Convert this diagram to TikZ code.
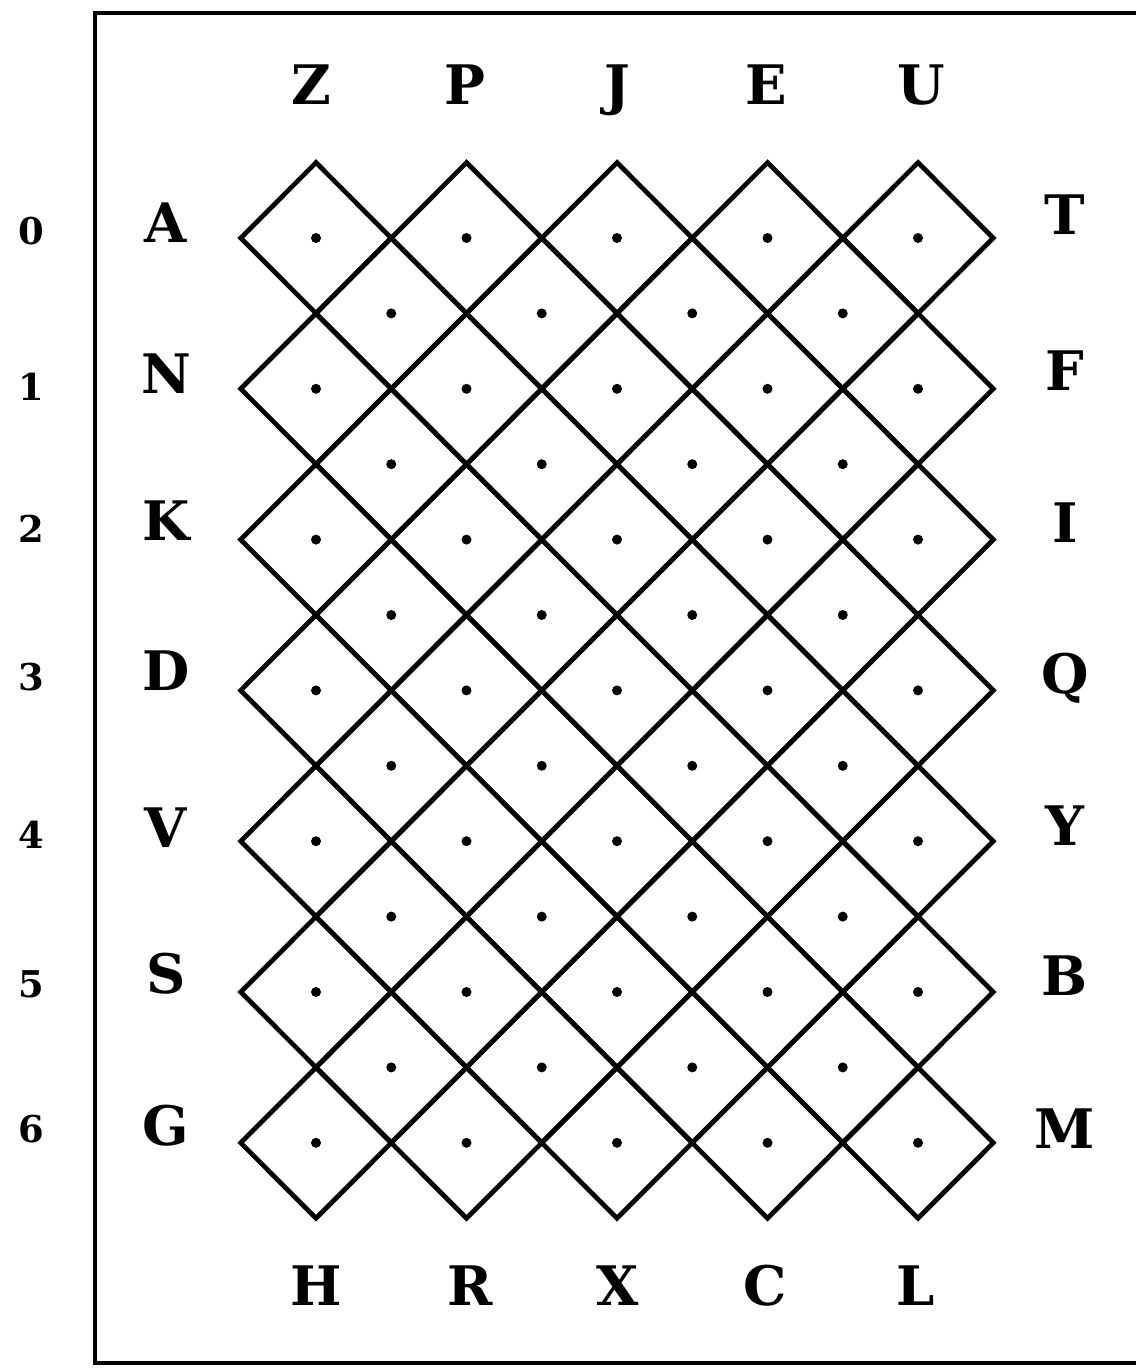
\documentclass[tikz,border=0pt]{standalone}
\usepackage{fontspec}
\setmainfont{DejaVu Serif}
\begin{document}
\begin{tikzpicture}[x=0.02cm,y=-0.02cm,
  diam/.style={line width=2.7pt,line join=miter},
  frameline/.style={line width=2.8pt},
  letter/.style={font=\fontsize{31}{36}\selectfont\bfseries,inner sep=0pt,anchor=base},
  digit/.style={font=\fontsize{21}{24}\selectfont\bfseries,inner sep=0pt,anchor=base},
  pt/.style={fill=black,circle,inner sep=0pt,minimum size=0.2cm}]
\useasboundingbox (0,0) rectangle (1136,1368);
% frame
\coordinate (f1) at (1136,13);
\coordinate (f2) at (95,13);
\coordinate (f3) at (95,1363);
\coordinate (f4) at (1136,1363);
\draw[frameline,line join=miter] (f1) -- (f2) -- (f3) -- (f4);
% main diamonds
\def\hx{75.3}
\def\hy{75.4}
\foreach \i in {0,...,4}{
  \foreach \j in {0,...,6}{
    \pgfmathsetmacro\cx{316+150.5*\i}
    \pgfmathsetmacro\cy{238+150.8*\j}
    \draw[diam] (\cx-\hx,\cy) -- (\cx,\cy-\hy) -- (\cx+\hx,\cy) -- (\cx,\cy+\hy) -- cycle;
    \node[pt] (m\i\j) at (\cx,\cy) {};
  }
}
% intermediate diamonds
\foreach \i in {0,...,3}{
  \foreach \j in {0,...,5}{
    \pgfmathsetmacro\cx{391.25+150.5*\i}
    \pgfmathsetmacro\cy{313.4+150.8*\j}
    \draw[diam] (\cx-\hx,\cy) -- (\cx,\cy-\hy) -- (\cx+\hx,\cy) -- (\cx,\cy+\hy) -- cycle;
    \node[pt] (s\i\j) at (\cx,\cy) {};
  }
}
% top and bottom letters
\foreach \t/\cx [count=\k from 0] in {Z/311,P/465,J/617,E/766,U/921}{
  \node[letter] (top\k) at (\cx,105) {\t};
}
\foreach \t/\cx [count=\k from 0] in {H/316,R/470,X/618,C/765,L/916}{
  \node[letter] (bot\k) at (\cx,1305) {\t};
}
% left letters
\foreach \t/\cy [count=\k from 0] in {A/243,N/393,K/540,D/690,V/847,S/993,G/1145}{
  \node[letter] (left\k) at (166,\cy) {\t};
}
% digits
\foreach \cy [count=\k from 0] in {245,400,542,690,848,997,1142}{
  \node[digit] (num\k) at (31,\cy) {\k};
}
% right letters
\foreach \t/\cy [count=\k from 0] in {T/235,F/390,I/542,Q/693,Y/845,B/995,M/1148}{
  \node[letter] (right\k) at (1065,\cy) {\t};
}
\end{tikzpicture}
\end{document}
